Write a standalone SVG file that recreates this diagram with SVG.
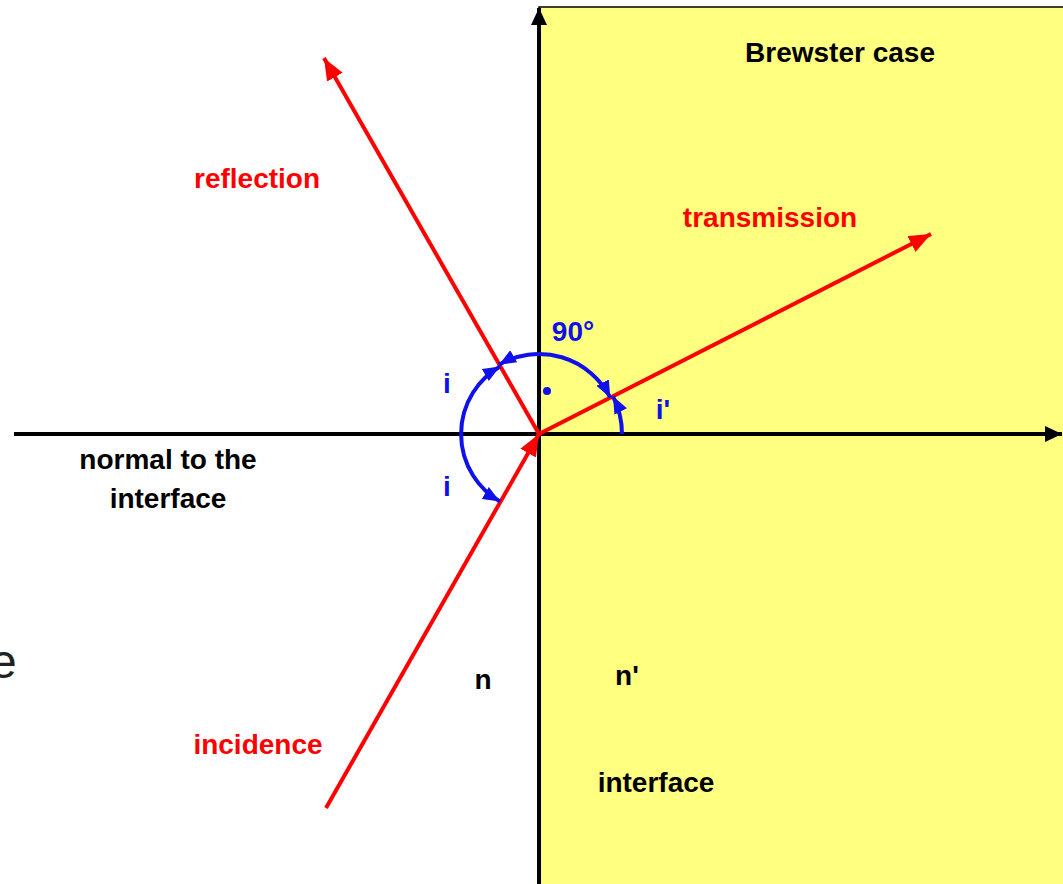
<svg xmlns="http://www.w3.org/2000/svg" width="1063" height="884" viewBox="0 0 1063 884">
<style>
.lbl{font-family:"Liberation Sans",Arial,sans-serif;font-weight:bold;font-size:28px;text-anchor:middle}
.red{fill:#FF0000}.blk{fill:#000}.blu{fill:#1010E8}
.rl{stroke:#FF0000;stroke-width:4;fill:none}
.bl{stroke:#000;stroke-width:4;fill:none}
.arc{stroke:#1010E8;stroke-width:4;fill:none}
</style>
<defs>
<marker id="ra" markerUnits="userSpaceOnUse" markerWidth="26" markerHeight="20" refX="22" refY="9" orient="auto"><path d="M0,0 L22,9 L0,18 Z" fill="#FF0000"/></marker>
<marker id="ka" markerUnits="userSpaceOnUse" markerWidth="20" markerHeight="18" refX="17" refY="8" orient="auto"><path d="M0,0 L17,8 L0,16 Z" fill="#000"/></marker>
<marker id="ba" markerUnits="userSpaceOnUse" markerWidth="20" markerHeight="16" refX="17" refY="7" orient="auto-start-reverse"><path d="M0,0 L17,7 L0,14 Z" fill="#1010E8"/></marker>
</defs>
<g id="medium"><rect x="539" y="7" width="530" height="884" fill="#FFFF80" stroke="#000" stroke-width="1.5"/></g>
<g id="connectors">
<line class="bl" x1="539" y1="884" x2="539" y2="8" marker-end="url(#ka)"/>
<line class="bl" x1="14" y1="434" x2="1062" y2="434" marker-end="url(#ka)"/>
<line class="rl" x1="539" y1="434" x2="324" y2="58" marker-end="url(#ra)"/>
<line class="rl" x1="326" y1="808" x2="539" y2="434" marker-end="url(#ra)"/>
<line class="rl" x1="539" y1="434" x2="931" y2="234" marker-end="url(#ra)"/>
<path class="arc" d="M500,366.5 A78,78 0 0 0 500,501.5" marker-start="url(#ba)" marker-end="url(#ba)"/>
<path class="arc" d="M610.3,397.7 A80,80 0 0 0 499,364.7" marker-start="url(#ba)" marker-end="url(#ba)"/>
<path class="arc" d="M622,434 A83,83 0 0 0 613,396.3" marker-end="url(#ba)"/>
<circle cx="547" cy="391" r="4" fill="#1010E8"/>
</g>
<g id="labels">
<text class="lbl blk" x="840" y="62">Brewster case</text>
<text class="lbl red" x="257" y="188">reflection</text>
<text class="lbl red" x="770" y="227">transmission</text>
<text class="lbl blu" x="573" y="341">90°</text>
<text class="lbl blu" x="447" y="393">i</text>
<text class="lbl blu" x="663" y="419">i'</text>
<text class="lbl blu" x="447" y="496">i</text>
<text class="lbl blk" x="168" y="469">normal to the</text>
<text class="lbl blk" x="168" y="508">interface</text>
<text class="lbl blk" x="483" y="689">n</text>
<text class="lbl blk" x="627" y="685">n'</text>
<text class="lbl red" x="258" y="754">incidence</text>
<text class="lbl blk" x="656" y="792">interface</text>
<text x="-10" y="678" font-family="Liberation Sans,Arial,sans-serif" font-size="48" fill="#222">e</text>
</g>
</svg>
